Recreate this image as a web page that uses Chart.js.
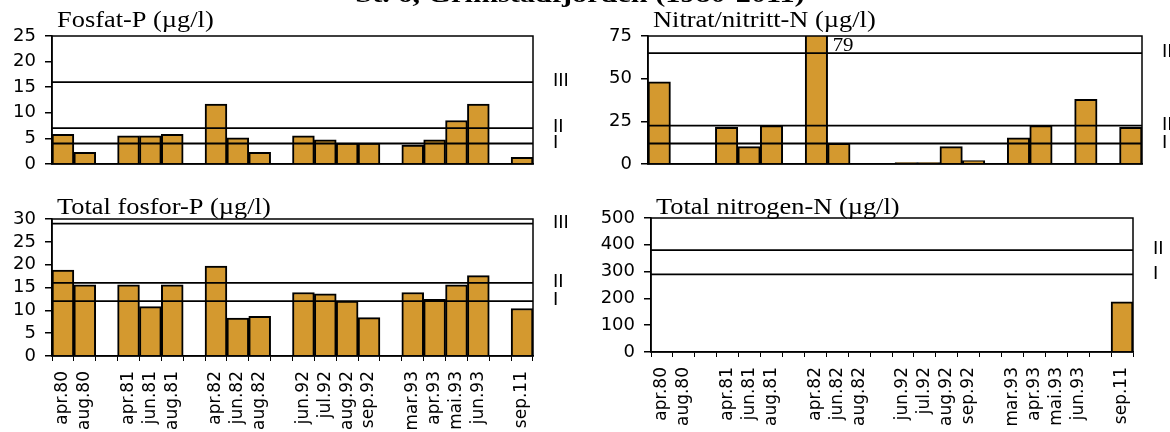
<!DOCTYPE html>
<html>
<head>
<meta charset="utf-8">
<script src="https://cdn.jsdelivr.net/npm/chart.js@4.4.1/dist/chart.umd.min.js"></script>
<style>
  body { margin: 0; background: #fff; }
  #wrap { position: relative; width: 1170px; height: 432px; overflow: hidden; }
  #wrap canvas { position: absolute; left: 0; top: 0; }
</style>
</head>
<body>
<div id="wrap">
  <canvas id="fosfat" width="1170" height="432"></canvas>
  <canvas id="nitrat" width="1170" height="432"></canvas>
  <canvas id="totp" width="1170" height="432"></canvas>
  <canvas id="totn" width="1170" height="432"></canvas>
</div>
<script>
// sampling dates, '' = gap between years
const dates = ['apr.80', 'aug.80', '', 'apr.81', 'jun.81', 'aug.81', '', 'apr.82', 'jun.82', 'aug.82', '',
  'jun.92', 'jul.92', 'aug.92', 'sep.92', '', 'mar.93', 'apr.93', 'mai.93', 'jun.93', '', 'sep.11'];

const fosfatP = [5.8, 2.3, null, 5.5, 5.5, 5.8, null, 11.7, 5.1, 2.3, null,
  5.5, 4.7, 4.1, 4.1, null, 3.7, 4.7, 8.5, 11.7, null, 1.3];
const nitratN = [48.2, null, null, 21.5, 10.2, 22.5, null, 79, 12.1, null, null,
  0.8, 0.8, 10.2, 2.0, null, 15.4, 22.5, null, 37.9, null, 21.5];
const totalP = [18.8, 15.6, null, 15.6, 10.8, 15.6, null, 19.7, 8.3, 8.7, null,
  13.9, 13.6, 12.0, 8.4, null, 13.9, 12.4, 15.6, 17.6, null, 10.4];
const totalN = [null, null, null, null, null, null, null, null, null, null, null,
  null, null, null, null, null, null, null, null, null, null, 187];

// class limits (I, II, III)
const classNames = ['I', 'II', 'III'];
const fosfatLimits = [4, 7, 16];
const nitratLimits = [12, 22.5, 65];
const totalPLimits = [12, 16, 29];
const totalNLimits = [290, 380];

const heading = 'St. 6, Grimstadfjorden (1980-2011)';

const barColor = '#D4992F';
const tickFont = { family: 'DejaVu Sans', size: 18 };
const dateFont = { family: 'DejaVu Sans', size: 17 };

function stretchText(ctx, text, x, y, font, sx) {
  ctx.save();
  ctx.translate(x, y);
  ctx.scale(sx, 1);
  ctx.font = font;
  ctx.fillText(text, 0, 0);
  ctx.restore();
}

const panelDeco = {
  id: 'panelDeco',
  afterDatasetsDraw(chart, args, o) {
    const { ctx, chartArea: a, scales: { y } } = chart;
    ctx.save();
    ctx.strokeStyle = '#000';
    ctx.fillStyle = '#000';
    ctx.lineWidth = 1.8;
    // limit lines + roman labels
    o.limits.forEach((v, i) => {
      const py = y.getPixelForValue(v);
      ctx.beginPath();
      ctx.moveTo(a.left, py);
      ctx.lineTo(a.right, py);
      ctx.stroke();
      ctx.font = '19px "Liberation Sans"';
      ctx.textAlign = 'left';
      ctx.textBaseline = 'middle';
      ctx.fillText(classNames[i], a.right + 20, py - 1);
    });
    ctx.lineWidth = 1.5;
    ctx.strokeRect(a.left, a.top, a.right - a.left, a.bottom - a.top);

    // value labels for bars cut off at the top
    const meta = chart.getDatasetMeta(0);
    const vals = chart.data.datasets[0].data;
    ctx.textAlign = 'left';
    ctx.textBaseline = 'top';
    meta.data.forEach((bar, i) => {
      if (vals[i] != null && vals[i] > y.max) {
        stretchText(ctx, String(vals[i]), bar.x + bar.width / 2 + 5, a.top + 1, '19px "Liberation Serif"', 1.1);
      }
    });

    // panel title
    ctx.textBaseline = 'alphabetic';
    stretchText(ctx, o.title, o.titleX, o.titleY, '24px "Liberation Serif"', 1.1);
    if (o.heading) {
      ctx.textAlign = 'center';
      stretchText(ctx, o.heading, 580, 2, 'bold 24px "Liberation Serif"', 1.26);
    }
    ctx.restore();
  }
};

function makePanel(id, values, yMax, yStep, limits, box, title, showX, extra) {
  const yWidth = Math.min(box.l, 70);
  return new Chart(document.getElementById(id), {
    type: 'bar',
    data: {
      labels: dates,
      datasets: [{
        data: values,
        backgroundColor: barColor,
        borderColor: '#000',
        borderWidth: 2,
        barPercentage: 1,
        categoryPercentage: 1
      }]
    },
    options: {
      responsive: false,
      animation: false,
      events: [],
      layout: {
        padding: {
          left: box.l - yWidth,
          right: 1170 - box.r,
          top: box.t,
          bottom: showX ? 0 : 432 - box.b
        }
      },
      scales: {
        x: {
          afterFit: (axis) => { axis.height = showX ? 432 - box.b : 0; },
          grid: { display: showX, drawOnChartArea: false, tickLength: 5, color: '#000', lineWidth: 1 },
          border: { display: true, color: '#000', width: 1.5 },
          ticks: {
            display: showX,
            autoSkip: false,
            minRotation: 90,
            maxRotation: 90,
            padding: 10,
            color: '#000',
            font: dateFont
          }
        },
        y: {
          min: 0,
          max: yMax,
          afterFit: (axis) => { axis.width = yWidth; },
          grid: { drawOnChartArea: false, tickLength: 7, color: '#000', lineWidth: 1.5 },
          border: { display: true, color: '#000', width: 1.5 },
          ticks: { stepSize: yStep, autoSkip: false, padding: 9, color: '#000', font: tickFont }
        }
      },
      plugins: {
        legend: { display: false },
        tooltip: { enabled: false },
        panelDeco: Object.assign({ limits: limits, title: title, titleX: box.l + 5, titleY: box.t - 9 }, extra || {})
      }
    },
    plugins: [panelDeco]
  });
}

makePanel('fosfat', fosfatP, 25, 5, fosfatLimits, { l: 52, r: 533, t: 36, b: 164 },
  'Fosfat-P (\u00b5g/l)', false, { heading: heading });
makePanel('nitrat', nitratN, 75, 25, nitratLimits, { l: 648, r: 1142, t: 36, b: 164 },
  'Nitrat/nitritt-N (\u00b5g/l)', false);
makePanel('totp', totalP, 30, 5, totalPLimits, { l: 52, r: 533, t: 219, b: 356 },
  'Total fosfor-P (\u00b5g/l)', true, { titleY: 214 });
makePanel('totn', totalN, 500, 100, totalNLimits, { l: 651, r: 1133, t: 218, b: 352 },
  'Total nitrogen-N (\u00b5g/l)', true, { titleY: 214 });
</script>
</body>
</html>
